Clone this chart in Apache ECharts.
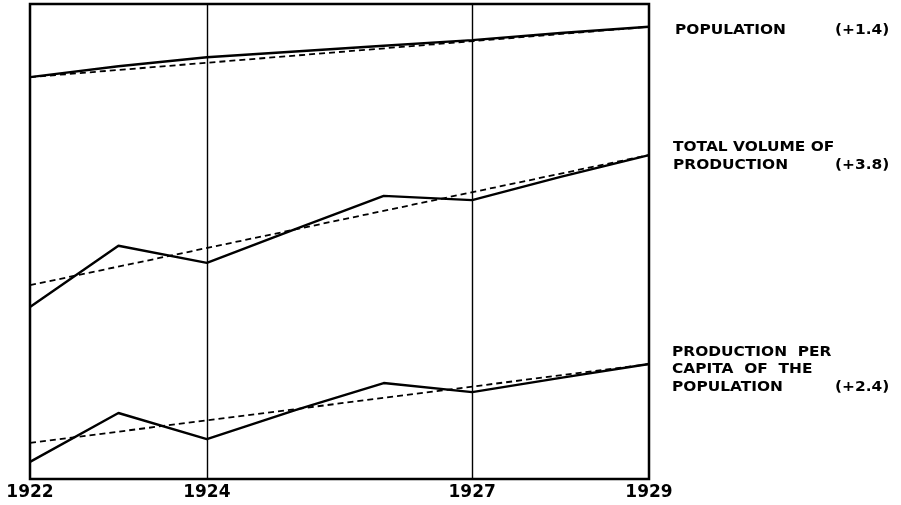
<!DOCTYPE html>
<html>
<head>
    <meta charset="utf-8">
    <title>Population and production</title>
    <script src="https://cdn.jsdelivr.net/npm/echarts@6/dist/echarts.min.js"></script>
    <style>
        html, body { margin: 0; padding: 0; background: #fff; }
        #chart { width: 901px; height: 505px; }
    </style>
</head>
<body>
    <div id="chart"></div>
    <script type="text/javascript">
        // years and index values (arbitrary scale, 0 = bottom, 100 = top)
        var years = [1922, 1923, 1924, 1925, 1926, 1927, 1928, 1929];
        var yearLabels = [1922, 1924, 1927, 1929];
        var gridYears = [1924, 1927];

        var population = [84.6, 86.9, 88.8, 90.0, 91.2, 92.4, 93.9, 95.2];
        var totalVolume = [36.2, 49.1, 45.5, 52.6, 59.6, 58.7, 63.6, 68.2];
        var perCapita = [3.6, 13.9, 8.4, 14.5, 20.2, 18.3, 21.3, 24.2];

        // trend line ends (1922, 1929)
        var populationTrend = [84.6, 95.2];
        var totalVolumeTrend = [40.8, 68.2];
        var perCapitaTrend = [7.6, 24.2];

        function pairs(vals) {
            return years.map(function (y, i) { return [y, vals[i]]; });
        }
        function trend(ends) {
            return [[years[0], ends[0]], [years[years.length - 1], ends[1]]];
        }

        var solid = { color: '#000', width: 2.4, type: 'solid' };
        var dashed = { color: '#000', width: 1.8, type: [6, 4] };

        function lineSeries(data, style) {
            return {
                type: 'line', data: data, symbol: 'none', silent: true,
                lineStyle: style, itemStyle: { color: '#000' }, z: 3
            };
        }

        var FONT = '"DejaVu Sans", sans-serif';
        function label(text, x, y) {
            return {
                type: 'text', x: x, y: y, scaleX: 1.1,
                style: { text: text, font: 'bold 14px ' + FONT, fill: '#000', textVerticalAlign: 'middle' }
            };
        }

        var series = [
            lineSeries(pairs(population), solid),
            lineSeries(trend(populationTrend), dashed),
            lineSeries(pairs(totalVolume), solid),
            lineSeries(trend(totalVolumeTrend), dashed),
            lineSeries(pairs(perCapita), solid),
            lineSeries(trend(perCapitaTrend), dashed)
        ];
        series[0].markLine = {
            silent: true, symbol: 'none', label: { show: false },
            lineStyle: { color: '#000', width: 1.4, type: 'solid' },
            data: gridYears.map(function (y) { return { xAxis: y }; })
        };

        var myChart = echarts.init(document.getElementById('chart'), null, { renderer: 'canvas' });
        myChart.setOption({
            animation: false,
            backgroundColor: '#fff',
            grid: {
                left: 30, right: 252, top: 4, bottom: 26,
                show: true, borderColor: '#000', borderWidth: 2.5
            },
            xAxis: {
                type: 'value', min: 1922, max: 1929, interval: 1,
                axisLine: { show: false },
                axisTick: { show: false },
                splitLine: { show: false },
                axisLabel: {
                    customValues: yearLabels, color: '#000', fontSize: 17,
                    fontWeight: 'bold', fontFamily: FONT, margin: 5,
                    formatter: function (v) { return String(v); }
                }
            },
            yAxis: {
                type: 'value', min: 0, max: 100,
                show: false,
                splitLine: { show: false }
            },
            graphic: [
                label('POPULATION', 675, 30),
                label('(+1.4)', 835, 30),
                label('TOTAL VOLUME OF', 673, 147),
                label('PRODUCTION', 673, 165),
                label('(+3.8)', 835, 165),
                label('PRODUCTION  PER', 672, 352),
                label('CAPITA  OF  THE', 672, 369),
                label('POPULATION', 672, 387),
                label('(+2.4)', 835, 387)
            ],
            series: series
        });
    </script>
</body>
</html>
